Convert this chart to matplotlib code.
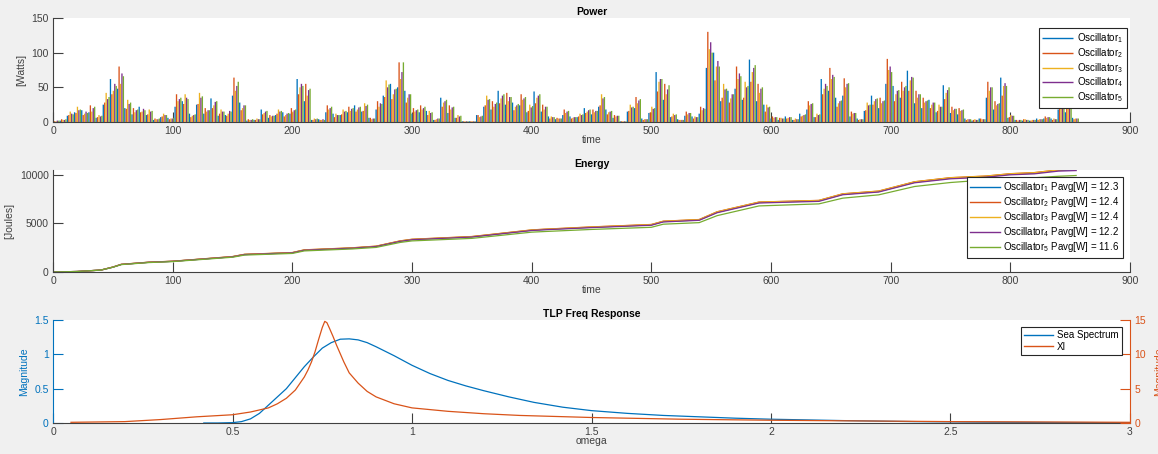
import numpy as np
import matplotlib.pyplot as plt

plt.rcParams["font.family"] = ["Liberation Sans", "DejaVu Sans"]
plt.rcParams["font.size"] = 7.5

colors = ["#0072BD", "#D95319", "#EDB120", "#7E2F8E", "#77AC30"]
axis_grey = "#404040"

# power peaks, one value every 6 s per oscillator
power_t = np.arange(0, 855, 6)
osc1_power = [2, 2, 9, 14, 17, 14, 6, 25, 62, 48,
              20, 11, 22, 10, 3, 7, 6, 22, 30, 12,
              25, 12, 34, 9, 10, 38, 28, 2, 3, 18,
              6, 10, 14, 12, 62, 30, 3, 4, 14, 12,
              10, 14, 24, 15, 6, 18, 38, 55, 50, 45,
              12, 14, 16, 3, 35, 13, 6, 1, 1, 10,
              22, 18, 45, 25, 28, 24, 14, 44, 15, 8,
              4, 10, 8, 7, 20, 11, 22, 18, 6, 1,
              15, 20, 5, 13, 72, 32, 7, 4, 9, 8,
              12, 78, 100, 30, 45, 48, 32, 90, 30, 25,
              5, 3, 8, 3, 12, 18, 7, 62, 45, 35,
              38, 8, 5, 16, 38, 20, 55, 52, 35, 74,
              27, 20, 32, 14, 53, 13, 11, 5, 2, 5,
              35, 18, 64, 6, 3, 2, 2, 5, 5, 5,
              18, 14, 6]
osc2_power = [1, 4, 10, 13, 10, 24, 7, 28, 40, 80,
              19, 20, 14, 11, 5, 8, 4, 40, 26, 7,
              26, 20, 20, 12, 9, 64, 17, 4, 3, 11,
              10, 12, 8, 20, 40, 55, 3, 3, 24, 7,
              11, 22, 15, 16, 6, 30, 36, 33, 86, 28,
              20, 24, 10, 3, 22, 24, 6, 1, 1, 10,
              24, 30, 27, 42, 17, 40, 16, 27, 25, 5,
              6, 18, 5, 8, 13, 18, 24, 11, 10, 1,
              16, 36, 3, 14, 44, 55, 8, 3, 15, 5,
              22, 130, 60, 35, 28, 80, 35, 58, 55, 15,
              8, 6, 5, 3, 8, 30, 7, 40, 78, 22,
              63, 15, 3, 17, 25, 35, 91, 30, 58, 45,
              45, 35, 20, 16, 33, 22, 20, 3, 3, 5,
              58, 30, 38, 7, 3, 4, 2, 3, 8, 3,
              30, 25, 4]
osc3_power = [1, 3, 15, 22, 12, 15, 10, 42, 45, 55,
              32, 14, 15, 18, 4, 12, 5, 30, 40, 9,
              42, 15, 24, 18, 12, 45, 20, 3, 5, 13,
              8, 18, 10, 15, 50, 38, 5, 3, 18, 12,
              18, 16, 18, 27, 4, 22, 60, 40, 62, 35,
              15, 18, 16, 4, 28, 18, 10, 1, 1, 7,
              38, 22, 34, 30, 22, 32, 25, 35, 18, 8,
              5, 13, 6, 12, 15, 14, 40, 14, 8, 1,
              25, 27, 4, 22, 58, 40, 12, 3, 11, 8,
              17, 105, 80, 55, 34, 62, 58, 72, 42, 25,
              6, 6, 6, 5, 9, 24, 12, 48, 62, 27,
              50, 12, 4, 28, 30, 27, 75, 40, 45, 60,
              35, 28, 25, 25, 42, 17, 16, 4, 4, 4,
              45, 24, 52, 10, 2, 4, 3, 4, 6, 5,
              24, 20, 5]
osc4_power = [2, 3, 12, 17, 15, 20, 8, 33, 55, 70,
              26, 17, 19, 15, 4, 10, 5, 33, 35, 10,
              35, 17, 29, 15, 16, 52, 24, 3, 4, 15,
              9, 15, 12, 17, 55, 46, 4, 4, 20, 10,
              15, 19, 21, 23, 5, 27, 50, 47, 72, 40,
              17, 20, 13, 5, 30, 21, 8, 1, 1, 8,
              32, 26, 38, 36, 24, 34, 21, 38, 22, 7,
              5, 15, 7, 10, 17, 16, 34, 15, 9, 1,
              21, 31, 4, 19, 62, 47, 10, 3, 13, 7,
              20, 115, 88, 47, 40, 70, 50, 78, 48, 21,
              7, 5, 7, 4, 10, 26, 10, 55, 68, 30,
              55, 13, 4, 24, 33, 30, 80, 45, 50, 65,
              40, 30, 28, 22, 46, 19, 17, 4, 3, 4,
              50, 26, 56, 9, 3, 3, 3, 4, 7, 4,
              26, 22, 5]
osc5_power = [2, 4, 11, 18, 13, 22, 9, 36, 52, 66,
              28, 18, 17, 16, 5, 10, 6, 35, 33, 11,
              37, 17, 30, 15, 15, 58, 24, 4, 4, 16,
              9, 16, 13, 18, 52, 48, 5, 3, 22, 10,
              16, 20, 22, 25, 5, 26, 54, 48, 86, 40,
              18, 22, 14, 5, 32, 22, 9, 1, 1, 9,
              33, 28, 40, 36, 26, 36, 23, 40, 22, 7,
              5, 16, 7, 11, 18, 16, 36, 16, 9, 1,
              22, 33, 4, 20, 62, 53, 11, 3, 13, 7,
              19, 100, 80, 48, 40, 66, 52, 82, 50, 22,
              7, 5, 7, 4, 11, 27, 11, 52, 65, 31,
              56, 13, 4, 25, 34, 31, 72, 46, 52, 64,
              40, 31, 28, 22, 50, 19, 18, 4, 3, 4,
              50, 27, 52, 9, 3, 3, 3, 4, 7, 4,
              26, 22, 5]

# cumulative energy
energy_t = [0, 20, 40, 50, 57, 80, 100, 150, 160, 200, 210, 250, 270, 290, 300,
            350, 400, 410, 450, 500, 510, 540, 555, 590, 640, 660, 690, 720, 750,
            780, 800, 820, 840, 855]
osc1_energy = [0, 50, 200, 500, 780, 1000, 1100, 1570, 1800, 1980, 2250, 2460, 2630,
               3170, 3340, 3620, 4300, 4370, 4600, 4850, 5190, 5360, 6150, 7150, 7320,
               8000, 8280, 9240, 9660, 9830, 10070, 10170, 10450, 10520]
osc2_energy = [0, 50, 200, 510, 790, 1010, 1110, 1590, 1820, 2000, 2280, 2490, 2660,
               3200, 3370, 3650, 4330, 4400, 4640, 4890, 5230, 5400, 6200, 7200, 7370,
               8050, 8330, 9290, 9710, 9880, 10120, 10230, 10510, 10600]
osc3_energy = [0, 50, 200, 505, 785, 1005, 1105, 1580, 1810, 1990, 2270, 2480, 2650,
               3190, 3360, 3640, 4320, 4390, 4630, 4880, 5220, 5390, 6190, 7190, 7360,
               8040, 8320, 9280, 9700, 9870, 10110, 10220, 10500, 10590]
osc4_energy = [0, 50, 195, 495, 775, 995, 1095, 1560, 1790, 1970, 2240, 2450, 2620,
               3150, 3320, 3600, 4270, 4340, 4570, 4810, 5150, 5320, 6100, 7100, 7270,
               7950, 8230, 9180, 9590, 9760, 10000, 10100, 10380, 10440]
osc5_energy = [0, 50, 195, 490, 760, 970, 1070, 1520, 1740, 1910, 2170, 2370, 2530,
               3040, 3200, 3460, 4100, 4160, 4380, 4600, 4920, 5080, 5800, 6800, 7010,
               7600, 7940, 8800, 9210, 9480, 9600, 9700, 9850, 9930]
pavg = [12.3, 12.4, 12.4, 12.2, 11.6]

# frequency response
sea_omega = [0.42, 0.46, 0.5, 0.525, 0.55, 0.575, 0.6, 0.625, 0.65, 0.675, 0.7, 0.725,
             0.75, 0.775, 0.8, 0.825, 0.85, 0.875, 0.9, 0.95, 1.0, 1.05, 1.1, 1.15,
             1.2, 1.27, 1.34, 1.42, 1.5, 1.6, 1.7, 1.8, 1.9, 2.0, 2.2, 2.4, 2.6, 2.8,
             3.0]
sea_spectrum = [0.0, 0.0, 0.005, 0.02, 0.06, 0.14, 0.26, 0.38, 0.50, 0.66, 0.82, 0.96,
                1.09, 1.17, 1.22, 1.225, 1.21, 1.17, 1.11, 0.98, 0.84, 0.72, 0.62, 0.54,
                0.47, 0.38, 0.30, 0.23, 0.18, 0.14, 0.11, 0.09, 0.07, 0.055, 0.035,
                0.02, 0.012, 0.007, 0.004]
xi_omega = [0.05, 0.2, 0.3, 0.4, 0.5, 0.55, 0.6, 0.625, 0.65, 0.675, 0.7, 0.71, 0.72,
            0.73, 0.74, 0.75, 0.757, 0.763, 0.77, 0.78, 0.79, 0.8, 0.81, 0.825, 0.85,
            0.875, 0.9, 0.95, 1.0, 1.1, 1.2, 1.3, 1.5, 1.75, 2.0, 2.5, 3.0]
xi = [0.1, 0.2, 0.5, 0.9, 1.2, 1.6, 2.2, 2.8, 3.6, 4.8, 6.7, 7.7, 8.9, 10.4, 12.2,
      13.9, 14.8, 14.6, 13.8, 12.6, 11.3, 10.1, 8.9, 7.3, 5.8, 4.6, 3.8, 2.8, 2.2,
      1.7, 1.35, 1.1, 0.8, 0.55, 0.4, 0.2, 0.1]

fig = plt.figure(figsize=(11.58, 4.54), dpi=100, facecolor="#f0f0f0")
left, width = 0.0458, 0.930
ax1 = fig.add_axes([left, 0.7313, width, 0.2291])
ax2 = fig.add_axes([left, 0.4009, width, 0.2247])
ax3 = fig.add_axes([left, 0.0683, width, 0.2269])


def style(ax):
    for s in ["top", "right"]:
        ax.spines[s].set_visible(False)
    for s in ["left", "bottom"]:
        ax.spines[s].set_color(axis_grey)
        ax.spines[s].set_linewidth(0.8)
    ax.tick_params(direction="in", length=7.5, width=0.8, colors=axis_grey,
                   labelsize=7.5, pad=3)


def legend(ax, handles, labels, anchor, hlen, spacing):
    leg = ax.legend(handles, labels, loc="upper right", bbox_to_anchor=anchor,
                    borderaxespad=0, fontsize=7, fancybox=False, framealpha=1,
                    edgecolor="#262626", handlelength=hlen, handletextpad=0.4,
                    labelspacing=spacing, borderpad=0.35)
    leg.get_frame().set_linewidth(0.8)
    for h in leg.get_lines():
        h.set_linewidth(1.0)
    return leg


# power
powers = [osc1_power, osc2_power, osc3_power, osc4_power, osc5_power]
for k, p in enumerate(powers):
    ax1.vlines(power_t + 1.2 * k, 0, p, color=colors[k], lw=0.95, snap=False,
               label=f"Oscillator$_{{\\mathregular{{{k + 1}}}}}$")
ax1.set_xlim(0, 900)
ax1.set_ylim(0, 150)
ax1.set_xticks(range(0, 901, 100))
ax1.set_yticks([0, 50, 100, 150])
style(ax1)
ax1.set_title("Power", fontsize=7.5, fontweight="bold", pad=2)
ax1.set_xlabel("time", color=axis_grey, labelpad=-1)
ax1.set_ylabel("[Watts]", color=axis_grey, labelpad=4)
h, l = ax1.get_legend_handles_labels()
legend(ax1, h, l, (0.997, 0.904), 3.2, 0.1)

# energy
energies = [osc1_energy, osc2_energy, osc3_energy, osc4_energy, osc5_energy]
for k, e in enumerate(energies):
    ax2.plot(energy_t, e, color=colors[k], lw=0.9,
             label=f"Oscillator$_{{\\mathregular{{{k + 1}}}}}$ Pavg[W] = {pavg[k]}")
ax2.set_xlim(0, 900)
ax2.set_ylim(0, 10500)
ax2.set_xticks(range(0, 901, 100))
ax2.set_yticks([0, 5000, 10000])
style(ax2)
ax2.set_title("Energy", fontsize=7.5, fontweight="bold", pad=2)
ax2.set_xlabel("time", color=axis_grey, labelpad=-1)
ax2.set_ylabel("[Joules]", color=axis_grey, labelpad=4)
h, l = ax2.get_legend_handles_labels()
legend(ax2, h, l, (0.9935, 0.931), 3.0, 0.1)

# frequency response
ax3.plot(sea_omega, sea_spectrum, color=colors[0], lw=0.9, label="Sea Spectrum")
ax3.set_xlim(0, 3)
ax3.set_ylim(0, 1.5)
ax3.set_yticks([0, 0.5, 1, 1.5])
ax3.set_yticklabels(["0", "0.5", "1", "1.5"])
ax3.set_xticks([0, 0.5, 1, 1.5, 2, 2.5, 3])
ax3.set_xticklabels(["0", "0.5", "1", "1.5", "2", "2.5", "3"])
style(ax3)
ax3.spines["left"].set_color(colors[0])
ax3.tick_params(axis="y", colors=colors[0])
ax3.set_ylabel("Magnitude", color=colors[0], labelpad=4)
ax3.set_xlabel("omega", color=axis_grey, labelpad=-1)
ax3.set_title("TLP Freq Response", fontsize=7.5, fontweight="bold", pad=2)

ax3r = ax3.twinx()
ax3r.plot(xi_omega, xi, color=colors[1], lw=0.9, label="XI")
ax3r.set_ylim(0, 15)
ax3r.set_yticks([0, 5, 10, 15])
for s in ["top", "left", "bottom"]:
    ax3r.spines[s].set_visible(False)
ax3r.spines["right"].set_color(colors[1])
ax3r.spines["right"].set_linewidth(0.8)
ax3r.tick_params(direction="in", length=7.5, width=0.8, colors=colors[1],
                 labelsize=7.5, pad=3)
ax3r.set_ylabel("Magnitude", color=colors[1], labelpad=6)

h1, l1 = ax3.get_legend_handles_labels()
h2, l2 = ax3r.get_legend_handles_labels()
legend(ax3r, h1 + h2, l1 + l2, (0.9926, 0.932), 3.0, 0.15)

fig.savefig("out.png", dpi=100, facecolor=fig.get_facecolor())
